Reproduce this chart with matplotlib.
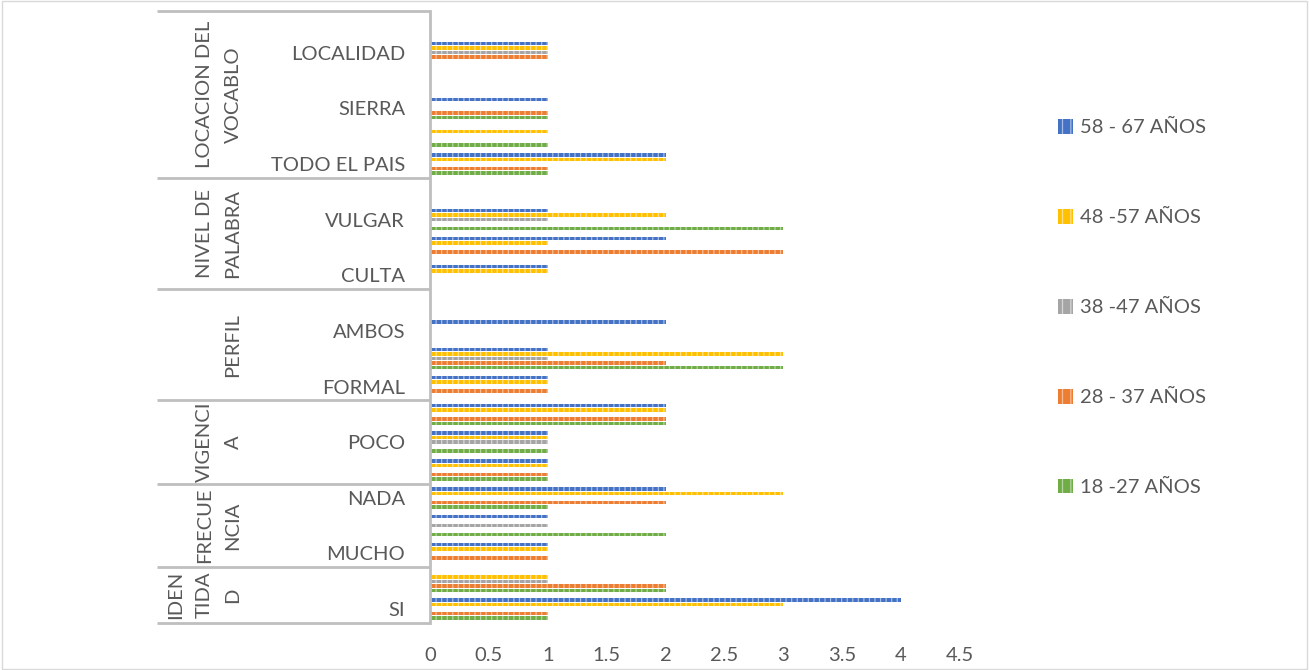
import numpy as np
import matplotlib
matplotlib.use("Agg")
import matplotlib.pyplot as plt
from matplotlib.patches import Patch
from matplotlib.transforms import blended_transform_factory

plt.rcParams['font.family'] = ['Lato', 'DejaVu Sans']
plt.rcParams['hatch.linewidth'] = 0.9

# categorias (de abajo hacia arriba) y grupo al que pertenecen
categorias = ['SI', 'NO',
              'MUCHO', 'POCO', 'NADA',
              'MUCHO', 'POCO', 'NADA',
              'FORMAL', 'INFORMAL', 'AMBOS', 'NINGUNO',
              'CULTA', 'COLOQUIAL', 'VULGAR', 'TECNICA',
              'TODO EL PAIS', 'COSTA', 'SIERRA', 'ORIENTE', 'LOCALIDAD', 'OTRO']
grupos = ['IDEN\nTIDA\nD', 'FRECUE\nNCIA', 'VIGENCI\nA', 'PERFIL',
          'NIVEL DE\nPALABRA', 'LOCACION DEL\nVOCABLO']
tam_grupos = [2, 3, 3, 4, 4, 6]

edades = ['18 -27 AÑOS', '28 - 37 AÑOS', '38 -47 AÑOS', '48 -57 AÑOS', '58 - 67 AÑOS']
colores = ['#70AD47', '#ED7D31', '#A5A5A5', '#FFC000', '#4472C4']
tintes = ['#B5D6A0', '#F6BE98', '#D6D6D6', '#FFE08A', '#A6BCE4']

e18_27 = [1, 2, 0, 2, 1, 1, 1, 2, 0, 3, 0, 0, 0, 0, 3, 0, 1, 1, 1, 0, 0, 0]
e28_37 = [1, 2, 1, 0, 2, 1, 0, 2, 1, 2, 0, 0, 0, 3, 0, 0, 1, 0, 1, 0, 1, 0]
e38_47 = [0, 1, 0, 1, 0, 0, 1, 0, 0, 1, 0, 0, 0, 0, 1, 0, 0, 0, 0, 0, 1, 0]
e48_57 = [3, 1, 1, 0, 3, 1, 1, 2, 1, 3, 0, 0, 1, 1, 2, 0, 2, 1, 0, 0, 1, 0]
e58_67 = [4, 0, 1, 1, 2, 1, 1, 2, 1, 1, 2, 0, 1, 2, 1, 0, 2, 0, 1, 0, 1, 0]
series = [e18_27, e28_37, e38_47, e48_57, e58_67]

fs = 14.5
fig = plt.figure(figsize=(13.09, 6.70), dpi=100)
ax = fig.add_axes([430 / 1309, 1 - 623 / 670, 530 / 1309, 612 / 670])

y = np.arange(len(categorias))
paso = 0.162
for k, vals in enumerate(series):
    ax.barh(y + (k - 2) * paso, vals, height=0.125, color=colores[k],
            edgecolor=tintes[k], linewidth=0, hatch='|||')

ax.set_xlim(0, 4.5)
ax.set_ylim(-0.5, len(categorias) - 0.5)
ax.set_xticks(np.arange(0, 4.51, 0.5))
ax.set_xticklabels(['0', '0.5', '1', '1.5', '2', '2.5', '3', '3.5', '4', '4.5'])
ax.set_yticks(y)
ax.set_yticklabels([c if i % 2 == 0 else '' for i, c in enumerate(categorias)])
ax.tick_params(axis='both', length=0, labelsize=fs, labelcolor='#595959')
ax.tick_params(axis='y', pad=18)
ax.tick_params(axis='x', pad=17)
for s in ['top', 'right', 'bottom']:
    ax.spines[s].set_visible(False)
ax.spines['left'].set_color('#BFBFBF')
ax.spines['left'].set_linewidth(2)

# lineas de separacion de grupos y etiquetas rotadas
tr = blended_transform_factory(ax.transAxes, ax.transData)
x_izq = (157 - 430) / 530
lim = np.concatenate([[0], np.cumsum(tam_grupos)]) - 0.5
for b in lim:
    ax.plot([x_izq, 0], [b, b], transform=tr, color='#BFBFBF', lw=2,
            clip_on=False, solid_capstyle='butt')
for g, nombre in enumerate(grupos):
    centro = (lim[g] + lim[g + 1]) / 2
    lineas = nombre.split('\n')
    n = len(lineas)
    for j, txt in enumerate(lineas):
        xp = (233 - 28.5 * (n - 1 - j) - 430) / 530
        ax.text(xp, centro, txt, transform=tr, rotation=90, ha='center',
                va='center', fontsize=fs, color='#595959')

handles = [Patch(facecolor=colores[k], edgecolor=tintes[k], linewidth=0,
                 hatch='||', label=edades[k]) for k in range(4, -1, -1)]
fig.legend(handles=handles, loc='upper left', bbox_to_anchor=(1048 / 1309, 1 - 109 / 670),
           frameon=False, fontsize=fs, labelcolor='#595959', handlelength=0.75,
           handleheight=0.75, handletextpad=0.35, labelspacing=3.6, borderpad=0)

# marco del area del grafico
fig.patches.append(plt.Rectangle((0.0015, 0.002), 0.997, 0.996, transform=fig.transFigure,
                                 fill=False, edgecolor='#D9D9D9', lw=1))

fig.savefig('out.png', dpi=100, facecolor='white')
